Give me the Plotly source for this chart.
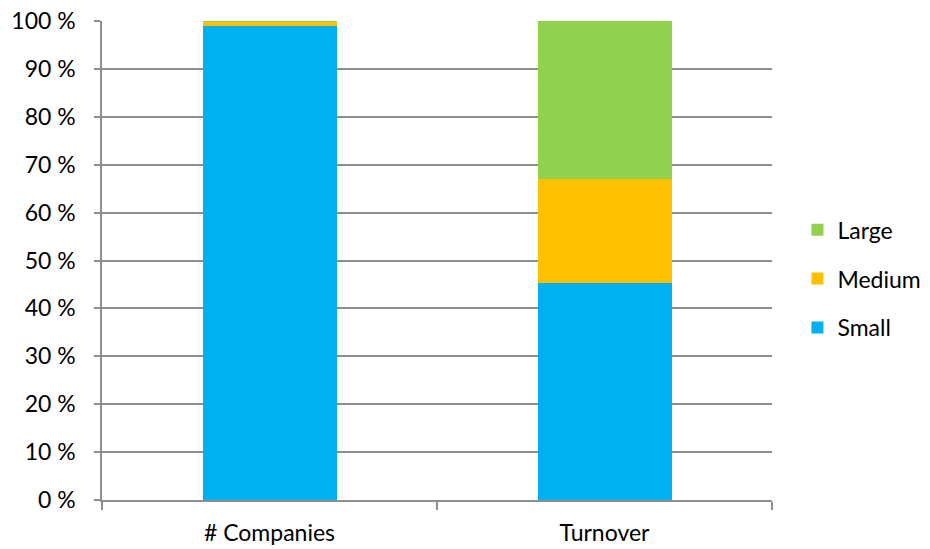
import plotly.graph_objects as go

categories = ["# Companies", "Turnover"]
small = [99.0, 45.2]
medium = [0.95, 21.8]
large = [0.05, 33.0]
y_ticks = [0, 10, 20, 30, 40, 50, 60, 70, 80, 90, 100]
y_tick_labels = [f"{v} %" for v in y_ticks]

fig = go.Figure()
fig.add_trace(go.Bar(name="Small", x=categories, y=small, marker_color="#00B0F0",
                     marker_line_width=0, legendgroup="s", legendrank=3))
fig.add_trace(go.Bar(name="Medium", x=categories, y=medium, marker_color="#FFC000",
                     marker_line_width=0, legendgroup="m", legendrank=2))
fig.add_trace(go.Bar(name="Large", x=categories, y=large, marker_color="#92D050",
                     marker_line_width=0, legendgroup="l", legendrank=1))

grid = "#8e8e8e"
fig.update_layout(
    barmode="stack",
    bargap=0.6,
    width=930, height=549,
    margin=dict(l=102, r=158, t=21, b=49, autoexpand=False),
    plot_bgcolor="white", paper_bgcolor="white",
    font=dict(family="Lato, Open Sans, sans-serif", size=23, color="#000000"),
    legend=dict(traceorder="grouped", x=1.038, y=0.462, xanchor="left",
                yanchor="middle", tracegroupgap=16, font=dict(size=23)),
    xaxis=dict(showline=True, linecolor=grid, linewidth=1.5, ticks="outside",
               tickson="boundaries", ticklen=8, tickcolor=grid, tickwidth=1.5,
               showgrid=False, tickfont=dict(size=23), ticklabelstandoff=12),
    yaxis=dict(range=[0, 100], tickmode="array", tickvals=y_ticks, ticktext=y_tick_labels,
               showline=True, linecolor=grid, linewidth=1.5, ticks="outside", ticklen=6,
               tickcolor=grid, tickwidth=1.5, showgrid=True, gridcolor=grid,
               gridwidth=1.5, zeroline=False, tickfont=dict(size=23),
               ticklabelstandoff=14),
)

fig.write_html("out.html")
